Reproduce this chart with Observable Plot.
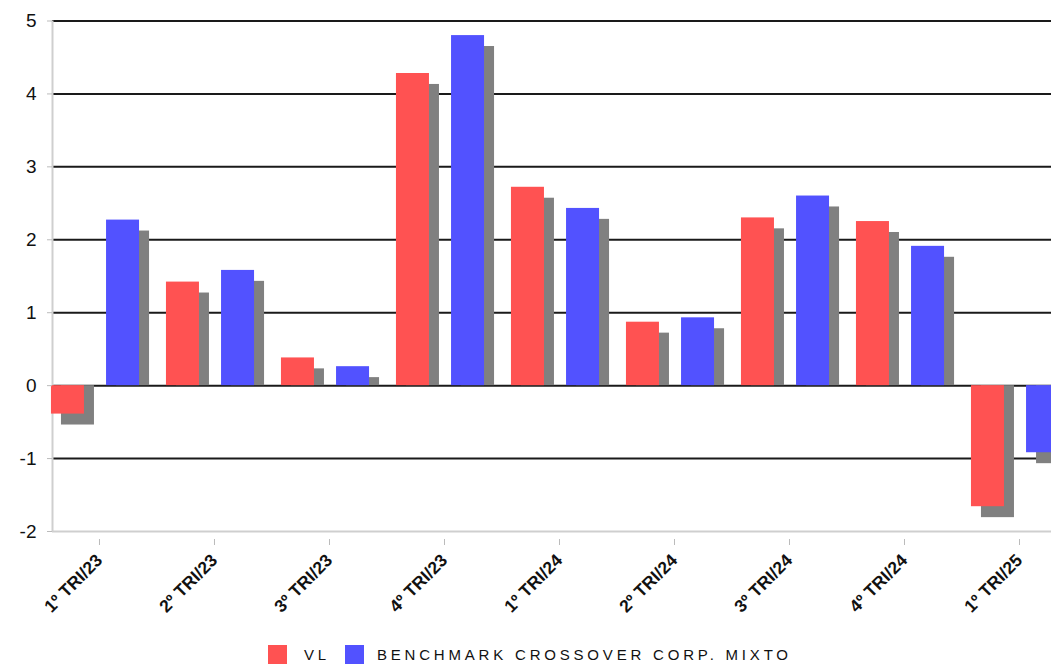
<!DOCTYPE html>
<html>
<head>
<meta charset="utf-8">
<script src="https://cdn.jsdelivr.net/npm/d3@7"></script>
<script src="https://cdn.jsdelivr.net/npm/@observablehq/plot@0.6"></script>
<style>
  html, body { margin: 0; padding: 0; background: #fff; }
  #chart { position: relative; width: 1051px; height: 667px; overflow: hidden; }
  #legend { position: absolute; left: 0; top: 644px; width: 1051px; height: 22px;
            font-family: "Liberation Sans", Arial, sans-serif; font-size: 15px; color: #111; }
  .sw { position: absolute; top: 1px; width: 19px; height: 19px; }
  .lt { position: absolute; top: 2px; letter-spacing: 3.8px; white-space: pre; }
</style>
</head>
<body>
<div id="chart"></div>
<script>
const quarters = ["1º TRI/23", "2º TRI/23", "3º TRI/23", "4º TRI/23", "1º TRI/24", "2º TRI/24", "3º TRI/24", "4º TRI/24", "1º TRI/25"];
const vl = [-0.39, 1.42, 0.38, 4.28, 2.72, 0.87, 2.30, 2.25, -1.66];
const bench = [2.27, 1.58, 0.26, 4.80, 2.43, 0.93, 2.60, 1.91, -0.92];
const seriesNames = ["VL", "BENCHMARK CROSSOVER CORP. MIXTO"];
const seriesColors = ["#ff5252", "#5252ff"];
const yTicks = [-2, -1, 0, 1, 2, 3, 4, 5];

// layout (in x-scale units: one unit = one quarter)
const barW = 0.287, gapHalf = 0.096, shX = 0.087, shY = 0.15;

const rows = [];
quarters.forEach((q, i) => {
  rows.push({i, s: 0, v: vl[i], x1: i - gapHalf - barW, x2: i - gapHalf});
  rows.push({i, s: 1, v: bench[i], x1: i + gapHalf, x2: i + gapHalf + barW});
});

const chart = Plot.plot({
  width: 1051,
  height: 625,
  marginLeft: 52,
  marginRight: 0,
  marginTop: 20.5,
  marginBottom: 94,
  style: {fontFamily: "Liberation Sans, Arial, sans-serif", background: "#fff"},
  x: {domain: [-0.3739, 8.313], ticks: d3.range(quarters.length)},
  y: {domain: [-2, 5]},
  marks: [
    Plot.ruleY(yTicks.filter(d => d > -2), {stroke: "#1a1a1a", strokeWidth: 2}),
    Plot.ruleY([-2], {stroke: "#cfcfcf", strokeWidth: 2}),
    Plot.ruleX([-0.3739], {y1: -2, y2: 5, stroke: "#cfcfcf", strokeWidth: 2}),
    Plot.rect(rows, {x1: d => d.x1 + shX, x2: d => d.x2 + shX, y1: 0, y2: d => d.v - shY, fill: "#808080"}),
    Plot.rect(rows, {x1: "x1", x2: "x2", y1: 0, y2: "v", fill: d => seriesColors[d.s]}),
    Plot.axisY(yTicks, {label: null, tickSize: 5, tickPadding: 11, fontSize: 19, stroke: "#bbb", fill: "#111", tickFormat: d => String(d)}),
    Plot.axisX(d3.range(quarters.length), {label: null, tickSize: 6, stroke: "#bbb", tickRotate: -45, fontSize: 17.5, fontWeight: "bold",
      fill: "#111", tickPadding: 12, dx: 4, dy: 8, tickFormat: i => quarters[i]})
  ]
});
document.getElementById("chart").appendChild(chart);

const legend = document.createElement("div");
legend.id = "legend";
const items = [
  {sw: 268, tx: 304},
  {sw: 345, tx: 377}
];
items.forEach((it, k) => {
  const s = document.createElement("div");
  s.className = "sw"; s.style.left = it.sw + "px"; s.style.background = seriesColors[k];
  const t = document.createElement("div");
  t.className = "lt"; t.style.left = it.tx + "px"; t.textContent = seriesNames[k];
  legend.appendChild(s); legend.appendChild(t);
});
document.getElementById("chart").appendChild(legend);
</script>
</body>
</html>
